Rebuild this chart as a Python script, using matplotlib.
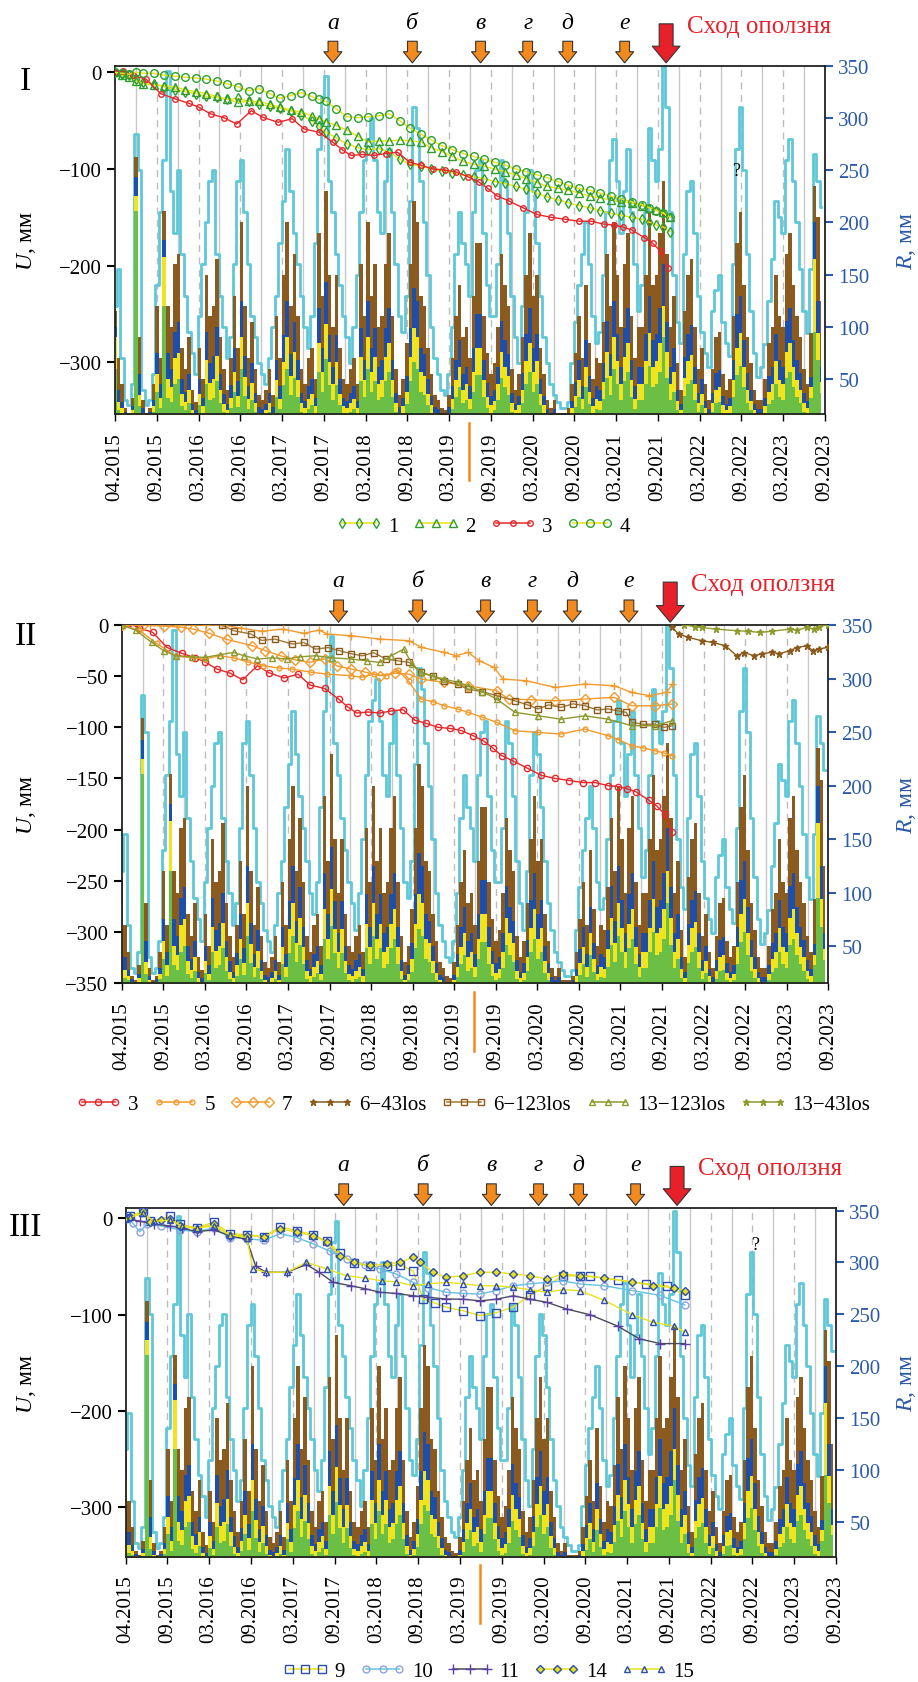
import numpy as np
import matplotlib
matplotlib.use("Agg")
import matplotlib.pyplot as plt
from matplotlib.lines import Line2D

plt.rcParams['font.family'] = ['Liberation Serif', 'DejaVu Serif']
plt.rcParams['mathtext.fontset'] = 'custom'
plt.rcParams['mathtext.rm'] = 'Liberation Serif'
plt.rcParams['mathtext.it'] = 'Liberation Serif:italic'

# ---------------- data ----------------
tick_labels = ["04.2015", "09.2015", "03.2016", "09.2016", "03.2017", "09.2017",
               "03.2018", "09.2018", "03.2019", "09.2019", "03.2020", "09.2020",
               "03.2021", "09.2021", "03.2022", "09.2022", "03.2023", "09.2023"]
# x axis in months from 04.2015 (0) to 09.2023 (101)
event_letters = ["а", "б", "в", "г", "д", "е"]
event_months = [31.0, 42.3, 52.0, 58.7, 64.4, 72.5]
slide_month = 78.4
sentinel_gap_month = 50.4

# precipitation sums, half-month steps (two values per month)
rain_t = np.arange(202) * 0.5
rain_cyan = [120, 155, 70, 30, 25, 45, 285, 250, 40, 25, 30, 55, 140, 210, 260, 345, 230, 190, 250, 170,
             130, 95, 75, 55, 110, 160, 200, 240, 250, 170, 130, 100, 70, 90, 160, 240, 260, 210, 160, 110,
             90, 65, 55, 45, 70, 100, 130, 180, 220, 270, 230, 190, 160, 130, 100, 80, 110, 180, 270, 320,
             340, 240, 210, 170, 140, 110, 90, 65, 100, 150, 210, 260, 280, 300, 260, 210, 190, 240, 270, 210,
             160, 110, 95, 130, 220, 310, 290, 240, 200, 150, 100, 70, 55, 40, 35, 55, 100, 170, 210, 180,
             160, 130, 210, 250, 260, 190, 140, 110, 110, 160, 260, 240, 190, 130, 90, 65, 120, 210, 250, 230,
             180, 130, 90, 65, 45, 35, 28, 22, 22, 28, 65, 105, 140, 170, 200, 160, 110, 85, 95, 150,
             210, 260, 280, 240, 190, 230, 270, 210, 160, 115, 140, 210, 290, 260, 240, 270, 350, 310, 210, 150,
             105, 85, 170, 230, 240, 190, 130, 95, 75, 62, 115, 135, 150, 105, 85, 72, 160, 270, 310, 250,
             170, 115, 75, 52, 62, 84, 125, 165, 220, 205, 190, 260, 280, 240, 200, 155, 115, 94, 155, 265,
             240, 215]
rain_brown = [115, 70, 45, 22, 18, 32, 263, 90, 30, 18, 22, 45, 120, 70, 211, 120, 100, 160, 170, 80,
              60, 90, 40, 28, 80, 50, 150, 110, 120, 165, 90, 60, 40, 70, 130, 80, 200, 120, 70, 105,
              60, 35, 30, 40, 60, 35, 110, 70, 150, 200, 120, 170, 110, 60, 45, 70, 80, 50, 190, 130,
              230, 150, 100, 150, 80, 50, 45, 60, 70, 45, 160, 110, 200, 130, 160, 100, 110, 160, 190, 110,
              60, 35, 50, 85, 160, 220, 200, 130, 120, 80, 55, 35, 30, 22, 20, 35, 70, 110, 140, 90,
              100, 70, 130, 180, 180, 110, 75, 55, 65, 100, 170, 140, 120, 60, 40, 55, 90, 150, 190, 130,
              150, 80, 55, 30, 22, 30, 18, 18, 18, 22, 45, 75, 110, 70, 140, 85, 50, 70, 65, 105,
              170, 120, 200, 150, 100, 160, 190, 110, 70, 100, 100, 150, 210, 140, 150, 190, 240, 170, 100, 130,
              65, 40, 115, 150, 165, 100, 60, 80, 45, 30, 60, 90, 95, 55, 40, 50, 110, 180, 210, 140,
              90, 65, 40, 30, 30, 50, 85, 100, 150, 110, 100, 170, 190, 140, 110, 90, 60, 45, 94, 235,
              205, 125]
rain_blue = [100, 40, 28, 19, 17, 24, 243, 55, 22, 17, 19, 30, 75, 45, 183, 75, 60, 95, 105, 50,
             38, 55, 26, 20, 50, 32, 95, 65, 72, 100, 55, 36, 26, 44, 80, 48, 125, 72, 43, 65,
             37, 23, 21, 26, 37, 23, 68, 43, 92, 125, 74, 105, 68, 37, 29, 43, 50, 32, 118, 80,
             143, 92, 62, 92, 50, 32, 29, 37, 43, 29, 99, 68, 125, 80, 99, 62, 68, 99, 118, 68,
             37, 23, 32, 53, 99, 137, 125, 80, 74, 50, 34, 23, 21, 17, 17, 23, 43, 68, 87, 55,
             62, 43, 80, 112, 112, 68, 46, 34, 40, 62, 106, 87, 74, 37, 26, 34, 56, 93, 118, 80,
             93, 50, 34, 21, 18, 21, 17, 17, 17, 18, 29, 47, 68, 43, 87, 53, 32, 43, 40, 65,
             106, 74, 125, 93, 62, 99, 118, 68, 43, 62, 62, 93, 130, 87, 93, 118, 160, 105, 62, 80,
             40, 26, 71, 93, 102, 62, 37, 50, 29, 21, 37, 56, 59, 34, 26, 32, 68, 112, 130, 87,
             56, 40, 26, 21, 21, 32, 53, 62, 93, 68, 62, 106, 118, 87, 68, 56, 37, 29, 52, 200,
             125, 62]
rain_yellow = [90, 28, 22, 17, 16, 20, 225, 35, 18, 16, 17, 24, 55, 32, 167, 50, 42, 70, 75, 36,
               28, 40, 20, 17, 36, 24, 68, 46, 50, 72, 40, 26, 20, 32, 57, 34, 90, 52, 31, 46,
               27, 18, 17, 20, 27, 18, 49, 31, 66, 90, 53, 76, 49, 27, 22, 31, 36, 24, 85, 57,
               103, 66, 45, 66, 36, 24, 22, 27, 31, 22, 71, 49, 90, 57, 71, 45, 49, 71, 85, 49,
               27, 18, 24, 38, 71, 99, 90, 57, 53, 36, 25, 18, 17, 16, 16, 18, 31, 49, 62, 40,
               45, 31, 57, 80, 80, 49, 33, 25, 29, 45, 76, 62, 53, 27, 20, 25, 40, 67, 85, 57,
               67, 36, 25, 17, 16, 17, 16, 16, 16, 16, 22, 34, 49, 31, 62, 38, 24, 31, 29, 47,
               76, 53, 90, 67, 45, 71, 85, 49, 31, 45, 45, 67, 94, 62, 67, 85, 120, 76, 45, 57,
               29, 20, 51, 67, 73, 45, 27, 36, 22, 17, 27, 40, 42, 25, 20, 24, 49, 80, 94, 62,
               40, 29, 20, 17, 17, 24, 38, 45, 67, 49, 45, 76, 85, 62, 49, 40, 27, 22, 42, 165,
               94, 47]
rain_green = [60, 20, 18, 16, 16, 17, 211, 24, 16, 16, 16, 19, 38, 22, 120, 32, 28, 45, 50, 24,
              20, 27, 17, 16, 25, 18, 45, 30, 32, 48, 27, 19, 17, 22, 38, 23, 60, 34, 21, 30,
              19, 16, 16, 17, 19, 16, 33, 21, 44, 60, 35, 51, 33, 19, 17, 21, 25, 18, 57, 38,
              69, 44, 30, 44, 25, 18, 17, 19, 21, 17, 48, 33, 60, 38, 48, 30, 33, 48, 57, 33,
              19, 16, 18, 26, 48, 66, 60, 38, 35, 25, 18, 16, 16, 16, 16, 16, 21, 33, 42, 27,
              30, 21, 38, 54, 54, 33, 22, 18, 20, 30, 51, 42, 35, 19, 17, 18, 27, 45, 57, 38,
              45, 25, 18, 16, 16, 16, 16, 16, 16, 16, 17, 23, 33, 21, 42, 26, 18, 21, 20, 31,
              51, 35, 60, 45, 30, 48, 57, 33, 21, 30, 30, 45, 63, 42, 45, 57, 90, 51, 30, 38,
              20, 17, 34, 45, 49, 30, 19, 25, 17, 16, 19, 27, 28, 18, 17, 18, 33, 54, 63, 42,
              27, 20, 17, 16, 16, 18, 26, 30, 45, 33, 30, 51, 57, 42, 33, 27, 19, 17, 32, 95,
              68, 37]

# displacement series (month, U mm)
m_green = [0, 1, 2, 3, 4, 5.5, 7, 8.5, 10, 11.5, 13, 14.5, 16, 17.5, 19, 20.5, 22, 23.5, 25, 26.5, 28,
           29, 30, 31.5, 33, 34.5, 36, 37.5, 39, 40.5, 42, 43.5, 45, 46.5, 48, 49.5, 51, 52.5, 54, 55.5,
           57, 58.5, 60, 61.5, 63, 64.5, 66, 67.5, 69, 70.5, 72, 73.5, 75, 76, 77, 78, 79]
u1 = [0, -2, -3, -7, -10, -12, -15, -18, -20, -22, -25, -26, -28, -27, -30, -33, -35, -37, -40, -44, -50,
      -56, -62, -68, -74, -78, -80, -79, -82, -90, -95, -97, -100, -102, -104, -106, -108, -110, -113, -115,
      -118, -121, -125, -129, -132, -135, -138, -140, -143, -146, -148, -150, -152, -155, -158, -160, -165]
u2 = [0, -3, -5, -9, -12, -13, -14, -15, -18, -20, -22, -25, -28, -31, -30, -30, -33, -36, -39, -41, -45,
      -48, -51, -55, -60, -66, -72, -71, -71, -70, -71, -72, -78, -82, -87, -92, -95, -97, -100, -103,
      -106, -110, -114, -118, -120, -122, -125, -128, -130, -132, -134, -135, -138, -140, -142, -145, -150]
u4 = [0, -1, -2, 0, -1, -1, -3, -4, -5, -6, -7, -9, -12, -15, -19, -17, -22, -27, -24, -21, -25,
      -28, -30, -38, -46, -47, -46, -45, -43, -50, -58, -64, -70, -76, -80, -84, -87, -90, -93, -96,
      -100, -103, -106, -109, -113, -117, -120, -122, -125, -128, -131, -134, -137, -140, -143, -146, -150]
m3 = [0, 1.1, 2.5, 4.4, 6.5, 8.6, 10.5, 11.9, 13.6, 15.5, 17.3, 19.4, 21.0, 23.2, 25.2, 26.9, 29.0, 31.0,
      32.3, 33.6, 35.2, 36.9, 38.5, 40.2, 41.9, 43.5, 45.2, 46.9, 48.5, 50.2, 51.8, 53.0, 54.3, 56.0, 58.0,
      60.0, 62.0, 64.0, 66.0, 67.7, 69.5, 71.0, 72.2, 73.5, 75.3, 76.5, 77.6, 78.7]
u3 = [0, 1.6, -3, -7, -22, -27.6, -32, -36, -43, -47, -53.5, -39.7, -46.5, -51.7, -48, -58.6, -62, -72.4,
      -80, -86, -85, -86, -84, -82.7, -93, -96, -100, -101, -103, -108, -113.7, -120, -127.6, -133, -140,
      -147, -150, -152, -154, -154, -157, -158, -160, -163, -171, -177, -185, -202]

m5 = [0, 2.5, 5, 7.7, 10, 11.9, 14, 16, 18, 20.2, 22.5, 24.4, 27, 29.4, 32.8, 34.4, 36, 37.8, 39.5, 41,
      42.8, 44.5, 46.1, 48, 49.5, 51.5, 53.6, 56.2, 59.5, 62.8, 66.2, 69.5, 71, 72.9, 74.5, 76.2, 77.5, 78.7]
u5 = [0, -5, -18, -30, -32, -33.2, -30, -32, -36, -39.8, -42, -43, -46, -48, -49.5, -51, -48, -49.5, -44,
      -55, -72.3, -75, -78.9, -82, -85.3, -90, -95, -103.3, -105, -106.5, -101.7, -108.2, -112, -118, -120,
      -122.9, -125, -127.8]
m7 = [0, 3, 6, 8.5, 10.2, 12.5, 15, 18.6, 20.5, 22.7, 24.8, 26.9, 29, 30.8, 32.8, 34.8, 36.9, 39, 41.1,
      42.8, 46, 49.5, 53.6, 55.3, 58.5, 62, 66.2, 70.4, 72.9, 76.2, 78.7]
u7 = [0, 0, -1, -2, -3.9, -8, -14, -20, -25, -30, -34, -36.5, -33, -40, -43, -46, -49.5, -47, -48, -52.8,
      -56, -59.3, -64.2, -72.3, -73, -74, -72.3, -70.7, -78.9, -78.9, -77.2]
m_plus = [0, 4, 8, 12, 14.4, 17, 20, 23, 26, 28.2, 29.4, 32.8, 36.9, 41.1, 42.8, 46.1, 47.8, 49.5, 51.1,
          53.2, 54.5, 57.8, 62, 66.2, 70.4, 72.9, 75.4, 77.9, 78.7]
u_plus = [0, 0, 0, 0, 0, -3, -6, -4, -8, -4.9, -8.8, -10.4, -13.7, -15.3, -21.8, -26.7, -30, -26.7, -34.9,
          -41.4, -52.8, -54.4, -61, -57.7, -59.3, -65.8, -69, -65.8, -57.7]
m6_123 = [14.3, 16, 18.5, 20, 21.9, 24.4, 26, 27.7, 29.5, 31.1, 32.8, 34.4, 36, 37.8, 39.5, 41.1, 42.8,
          44.5, 46.1, 48, 49.5, 51.5, 53.6, 56.2, 58, 59.5, 61, 62.8, 64.5, 66.2, 68, 69.5, 71, 72.1, 72.9,
          74.5, 76.2, 77.5, 78.7]
u6_123 = [0, -5.5, -8.8, -15, -13.7, -18.6, -17, -23.5, -22, -25, -28, -30, -27, -33.2, -35, -36.5, -46.3,
          -50, -54.4, -58, -62.6, -65, -69, -74, -78, -82, -78, -80.5, -77, -78.9, -83, -82, -84, -85.3, -95,
          -97, -96.8, -100, -98.4]
m13_123 = [0, 2, 4.3, 6, 7.7, 10, 11.9, 14, 16, 17.5, 19.4, 21.5, 23.6, 25.5, 27.7, 30, 32.8, 35, 36.9,
           38.5, 40.3, 41.5, 42.8, 44.5, 46.1, 48, 49.5, 51.5, 53.6, 56.2, 59.5, 62.8, 66.2, 69.5, 72.9,
           76.2, 78.7]
u13_123 = [0, -5, -17, -25, -30, -31, -31.6, -29, -26.7, -30, -33.2, -32, -33.2, -31, -30, -32, -33.2, -35,
           -36.5, -30, -23.5, -38, -46.3, -50, -52.8, -56, -59.3, -65, -72.3, -85.3, -88.7, -92, -88.7, -92,
           -98.4, -98.4, -93.5]
m6_43 = [78.7, 79.6, 81, 82.9, 84.5, 86.3, 87.9, 89, 90.4, 91.5, 92.9, 94, 95.5, 96.5, 97.9, 98.8, 99.6, 100.9]
u6_43 = [-2.3, -8.8, -12, -15.3, -17, -20.2, -30, -27, -30, -28, -26.7, -28, -25, -22, -20.2, -25, -23.5, -21.8]
m13_43 = [80.4, 82, 82.9, 85, 87.9, 89.5, 91.2, 93, 95.5, 96.5, 97.9, 99, 99.6, 100.9]
u13_43 = [0, -1.5, -2.3, -4, -5.5, -6, -7.2, -6, -3.9, -5, -2.3, -4, -1.5, 0]

m9 = [0, 0.6, 2.5, 3.5, 6.3, 7.7, 10.1, 12.5, 14.8, 17.2, 19.6, 22, 24.3, 26.7, 28.6, 30.5, 32.4, 34.7,
      37.1, 39, 40.9, 42.3, 44, 45.6, 48, 50.4, 52.7, 55.1, 57.5, 59.9, 62.2, 64.6, 66, 70, 74, 77, 79.5]
u9 = [0, 2, 6, -3, 2, -6, -10, -4, -16, -17, -19, -9, -13, -17, -24, -36, -46, -50, -50, -48, -55, -83.8,
      -88, -92.4, -96, -101, -98, -92, -80, -70, -59.6, -60, -60, -64, -68, -70, -80]
m10 = [0, 1, 2, 3, 5, 7.7, 10.1, 12.5, 14.8, 17.2, 19.6, 22, 24.3, 26.7, 29, 31.4, 34, 36.2, 38.5, 40.9,
       43, 45.6, 48, 50.4, 52.7, 55.1, 57.5, 59.9, 62.2, 64.6, 68, 72, 76, 79.5]
u10 = [0, -5, -14, -6, -8, -12, -14, -10, -20, -21, -23, -16, -20, -26.7, -34, -42, -48, -52.6, -58, -66.5,
       -72, -76.8, -78, -78.6, -75, -70, -68, -66.5, -65, -68.2, -70, -75, -80, -90]
m11 = [0, 2, 4, 6.3, 8, 10.1, 12.5, 14.8, 17.2, 18.5, 20, 22.9, 25.7, 27.5, 29.5, 32, 34, 36.2, 38.5,
       40.9, 43, 45.6, 48, 50.4, 52.7, 55.1, 57.5, 59.9, 62.7, 66, 70, 73, 76, 79.5]
u11 = [0, -3, -6, -8, -10, -14, -12, -18, -22, -50, -56, -56, -48, -56, -66.5, -70, -73, -76.8, -78, -80.4,
       -82, -83.8, -84, -85.6, -84, -80.4, -84, -87.2, -94.2, -100, -112, -125, -130, -130]
m14 = [0, 0.6, 2.5, 3.5, 5, 6.3, 7.7, 10.1, 12.5, 14.8, 17.2, 19.6, 22, 24.3, 26.7, 28.6, 30.5, 32.4,
       34.7, 37.1, 39, 40.9, 41.8, 43.7, 45.6, 48, 50.4, 52.7, 55.1, 57.5, 59.9, 62.2, 64.6, 68, 72, 75, 78, 79.5]
u14 = [0, 1.3, 8, -4, -2, -0.7, -7.6, -11, -6, -18, -18, -19.7, -11, -14.5, -18, -25, -38.8, -45.7, -49,
       -47.5, -45.7, -40.5, -45.7, -56, -61.3, -59.6, -56, -56, -57.8, -59.6, -63, -57.8, -59.6, -62, -66,
       -70, -72, -75]
m15 = [0, 0.6, 2.5, 4, 6.3, 8, 10.1, 12.5, 14.8, 17.2, 18.1, 20, 22.9, 25.7, 28.6, 31.4, 34, 36.5, 38.5,
       40.9, 43, 45.6, 48, 50.4, 52.7, 55.1, 57.5, 59.9, 62.2, 64.6, 68, 72, 75, 78, 79.5]
u15 = [0, 1, 5, -3, -2, -8, -10, -8, -17, -20, -52.6, -56, -56, -45.7, -52.6, -59.6, -62, -65, -66, -70,
       -68, -66.5, -68, -70, -70, -71.7, -74, -76.8, -74, -75.2, -85, -100, -108, -112, -118]

# ---------------- styles ----------------
YEL = "#e9e21a"
GRN = "#2f9e2f"
RED = "#e8262a"
ORG = "#f39a2c"
BRN = "#8b5a1a"
OLV = "#8f9a2c"
BLU = "#2f4fb0"
R_BLUE = "#2a5aa8"

panels = [
    dict(rect=[0.1253, 0.7534, 0.7734, 0.2070], ylim=(-353.5, 6.9), yticks=[0, -100, -200, -300],
         rlim=(16.6, 350), roman="I", roman_y=0.9513, legend_y=0.687, legend_x=0.526,
         q=(88.3, -102), series=[
            (m_green, u1, dict(color=YEL, marker="d", ms=5.5, mec=GRN, mfc="none"), "1"),
            (m_green, u2, dict(color=YEL, marker="^", ms=5.5, mec=GRN, mfc="none"), "2"),
            (m3, u3, dict(color=RED, marker="o", ms=4, mec=RED, mfc="none"), "3"),
            (m_green, u4, dict(color=YEL, marker="o", ms=5.5, mec=GRN, mfc="none"), "4")]),
    dict(rect=[0.1326, 0.4153, 0.7697, 0.2127], ylim=(-350, 0),
         yticks=[0, -50, -100, -150, -200, -250, -300, -350],
         rlim=(15.6, 350), roman="II", roman_y=0.6215, legend_y=0.3434, legend_x=0.515,
         q=None, series=[
            (m3, u3, dict(color=RED, marker="o", ms=4.5, mec=RED, mfc="none"), "3"),
            (m5, u5, dict(color=ORG, marker="o", ms=3.5, mec=ORG, mfc="none"), "5"),
            (m7, u7, dict(color=ORG, marker="D", ms=5, mec=ORG, mfc="none"), "7"),
            (m_plus, u_plus, dict(color=ORG, marker="+", ms=6, mec=ORG), None),
            (m6_43, u6_43, dict(color=BRN, marker="*", ms=5, mec=BRN, mfc=BRN), "6−43los"),
            (m6_123, u6_123, dict(color="#a27a3a", marker="s", ms=5, mec=BRN, mfc="none"), "6−123los"),
            (m13_123, u13_123, dict(color=OLV, marker="^", ms=5, mec=OLV, mfc="none"), "13−123los"),
            (m13_43, u13_43, dict(color=OLV, marker="*", ms=5, mec=OLV, mfc=OLV), "13−43los")]),
    dict(rect=[0.1369, 0.0745, 0.7738, 0.2070], ylim=(-351, 10.4), yticks=[0, -100, -200, -300],
         rlim=(16.5, 352.3), roman="III", roman_y=0.2703, legend_y=0.0062, legend_x=0.532,
         q=(89.5, -27), series=[
            (m9, u9, dict(color=YEL, marker="s", ms=6, mec=BLU, mfc="none"), "9"),
            (m10, u10, dict(color="#5fc6e0", marker="o", ms=5, mec="#8ea2e0", mfc="none"), "10"),
            (m11, u11, dict(color="#4a4a5a", marker="+", ms=7, mec="#5a3fa8"), "11"),
            (m14, u14, dict(color=YEL, marker="D", ms=4.5, mec=BLU, mfc=YEL), "14"),
            (m15, u15, dict(color=YEL, marker="^", ms=5, mec=BLU, mfc="none"), "15")]),
]

fig = plt.figure(figsize=(9.18, 16.83), dpi=100)
fig.patch.set_facecolor("white")

ticks = np.linspace(0, 101, 18)

for p in panels:
    ax = fig.add_axes(p["rect"])
    ax2 = ax.twinx()
    ax.set_zorder(ax2.get_zorder() + 1)
    ax.patch.set_visible(False)

    # vertical grid: dashed at ticks, solid halfway between
    for a, b in zip(ticks[:-1], ticks[1:]):
        ax2.axvline((a + b) / 2, color="#c8c8c8", lw=1.0, zorder=0)
        if b < 101:
            ax2.axvline(b, color="#bdbdbd", lw=1.0, ls=(0, (5, 4)), zorder=0)

    # precipitation
    ax2.plot(rain_t, rain_cyan, drawstyle="steps-mid", color="#5ec8d8", lw=2.0, zorder=1)
    ax2.fill_between(rain_t, 0, rain_brown, step="mid", color="#8b5a1e", lw=0, zorder=2)
    ax2.fill_between(rain_t, 0, rain_blue, step="mid", color="#1f4ea8", lw=0, zorder=3)
    ax2.fill_between(rain_t, 0, rain_yellow, step="mid", color="#f0e41e", lw=0, zorder=4)
    ax2.fill_between(rain_t, 0, rain_green, step="mid", color="#6cbf45", lw=0, zorder=5)
    ax2.set_ylim(*p["rlim"])
    ax2.set_xlim(0, 101)
    ax2.set_yticks([50, 100, 150, 200, 250, 300, 350])
    ax2.tick_params(axis="y", colors=R_BLUE, labelsize=15, direction="out", length=6, width=1.5)
    for sp in ax2.spines.values():
        sp.set_visible(False)

    # displacements
    for mm, uu, st, lab in p["series"]:
        ax.plot(mm, uu, lw=1.0, mew=1.0, label=lab, zorder=5, clip_on=True, **st)

    ax.set_xlim(0, 101)
    ax.set_ylim(*p["ylim"])
    ax.set_yticks(p["yticks"])
    ax.set_yticklabels([str(v).replace("-", "−") for v in p["yticks"]])
    ax.set_xticks(ticks)
    ax.set_xticklabels(tick_labels, rotation=90)
    ax.tick_params(axis="y", labelsize=15, direction="out", length=6, width=1.5)
    ax.tick_params(axis="x", labelsize=15, direction="out", length=5, width=1.0, pad=8)
    for sp in ax.spines.values():
        sp.set_linewidth(1.3)
        sp.set_color("#222222")

    # event arrows
    tr = ax.get_xaxis_transform()
    for lt, em in zip(event_letters, event_months):
        ax.annotate("", xy=(em, 1.008), xycoords=tr, xytext=(em, 1.07), textcoords=tr,
                    arrowprops=dict(arrowstyle="simple,head_length=0.8,head_width=1.3,tail_width=0.7",
                                    fc="#f28a1e", ec="#333333", lw=0.8, shrinkA=0, shrinkB=0,
                                    mutation_scale=10))
        ax.text(em, 1.125, lt, transform=tr, ha="center", va="center", fontsize=17,
                fontstyle="italic")
    ax.annotate("", xy=(slide_month, 1.008), xycoords=tr, xytext=(slide_month, 1.12), textcoords=tr,
                arrowprops=dict(arrowstyle="simple,head_length=1.2,head_width=2.0,tail_width=1.0",
                                fc="#e8202a", ec="#333333", lw=0.8, shrinkA=0, shrinkB=0,
                                mutation_scale=10))
    ax.text(slide_month + 3.0, 1.115, "Сход оползня", transform=tr, ha="left", va="center",
            fontsize=18, color="#e8202a")

    # orange mark under axis
    ax.plot([sentinel_gap_month, sentinel_gap_month], [-0.025, -0.19], transform=tr,
            color="#f28a1e", lw=1.8, clip_on=False)

    if p["q"] is not None:
        ax.text(p["q"][0], p["q"][1], "?", ha="center", va="center", fontsize=13)

    # labels
    cy = p["rect"][1] + p["rect"][3] / 2
    fig.text(0.0294, cy, "$U$, мм", rotation=90, ha="center", va="center", fontsize=17)
    fig.text(0.987, cy, "$R$, мм", rotation=90, ha="center", va="center", fontsize=17, color=R_BLUE)
    fig.text(0.028, p["roman_y"], p["roman"], ha="center", va="center", fontsize=24)

    # legend
    handles = []
    labels = []
    for mm, uu, st, lab in p["series"]:
        if lab is None:
            continue
        handles.append(Line2D([], [], lw=1.1, mew=1.0, **st))
        labels.append(lab)
    fig.legend(handles, labels, loc="center", bbox_to_anchor=(p["legend_x"], p["legend_y"]),
               ncol=len(labels), frameon=False, fontsize=15, numpoints=3, handlelength=2.2,
               handletextpad=0.3, columnspacing=0.7)

fig.savefig("out.png", dpi=100, facecolor="white")
